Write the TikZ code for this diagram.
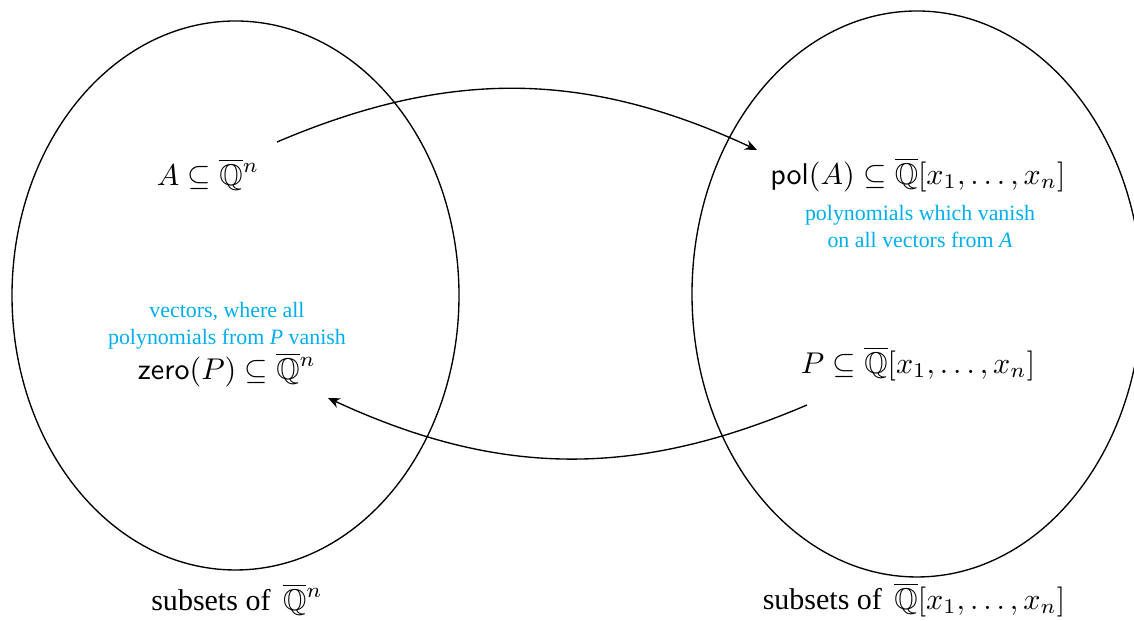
\documentclass[tikz,border=0pt]{standalone}
\usepackage[no-math]{fontspec}
\setmainfont{Liberation Serif}
\usepackage{amssymb}
\usetikzlibrary{arrows.meta}
\definecolor{notecyan}{RGB}{0,174,239}
\newcommand{\Qb}{\mathord{\smash{\overline{\mathbb{Q}}}\vphantom{\mathbb{Q}}}}
\tikzset{
  setline/.style={line width=0.45pt},
  maparrow/.style={line width=0.45pt,-{Stealth[length=4pt,width=3.4pt]}},
  mathlbl/.style={inner sep=0pt,font=\fontsize{10}{12}\selectfont},
  note/.style={inner sep=0pt,align=center,text=notecyan,font=\fontsize{7.3}{9}\selectfont},
  caption/.style={inner sep=0pt,font=\fontsize{10}{12}\selectfont}
}
\begin{document}
\begin{tikzpicture}[x=0.3333pt,y=-0.3333pt]
\useasboundingbox (0,0) rectangle (1134,621);
\begin{scope}
\clip (0,0) rectangle (1134,621);
\draw[setline] (235.5,295.5) ellipse [x radius=223.5, y radius=274.5];
\draw[setline] (917,294) ellipse [x radius=225, y radius=283];
\end{scope}
\node[mathlbl] (A) at (208,177) {$A\subseteq\Qb^n$};
\node[mathlbl] (pol) at (918,177) {$\mathsf{pol}(A)\subseteq\Qb[x_1,\ldots,x_n]$};
\node[note] (polnote) at (920,227) {polynomials which vanish\\on all vectors from \textit{A}};
\node[note] (zeronote) at (227,326) {vectors, where all\\polynomials from \textit{P} vanish};
\node[mathlbl] (zero) at (227,372) {$\mathsf{zero}(P)\subseteq\Qb^n$};
\node[mathlbl] (P) at (918,366) {$P\subseteq\Qb[x_1,\ldots,x_n]$};
\node[caption] (capL) at (237,602) {subsets of \,$\Qb^n$};
\node[caption] (capR) at (914,602) {subsets of \,$\Qb[x_1,\ldots,x_n]$};
\coordinate (s1) at (277,142);
\coordinate (e1) at (757,150);
\coordinate (s2) at (807,405);
\coordinate (e2) at (328,398);
\draw[maparrow] (s1) to[bend left=24] (e1);
\draw[maparrow] (s2) to[bend left=24] (e2);
\end{tikzpicture}
\end{document}
